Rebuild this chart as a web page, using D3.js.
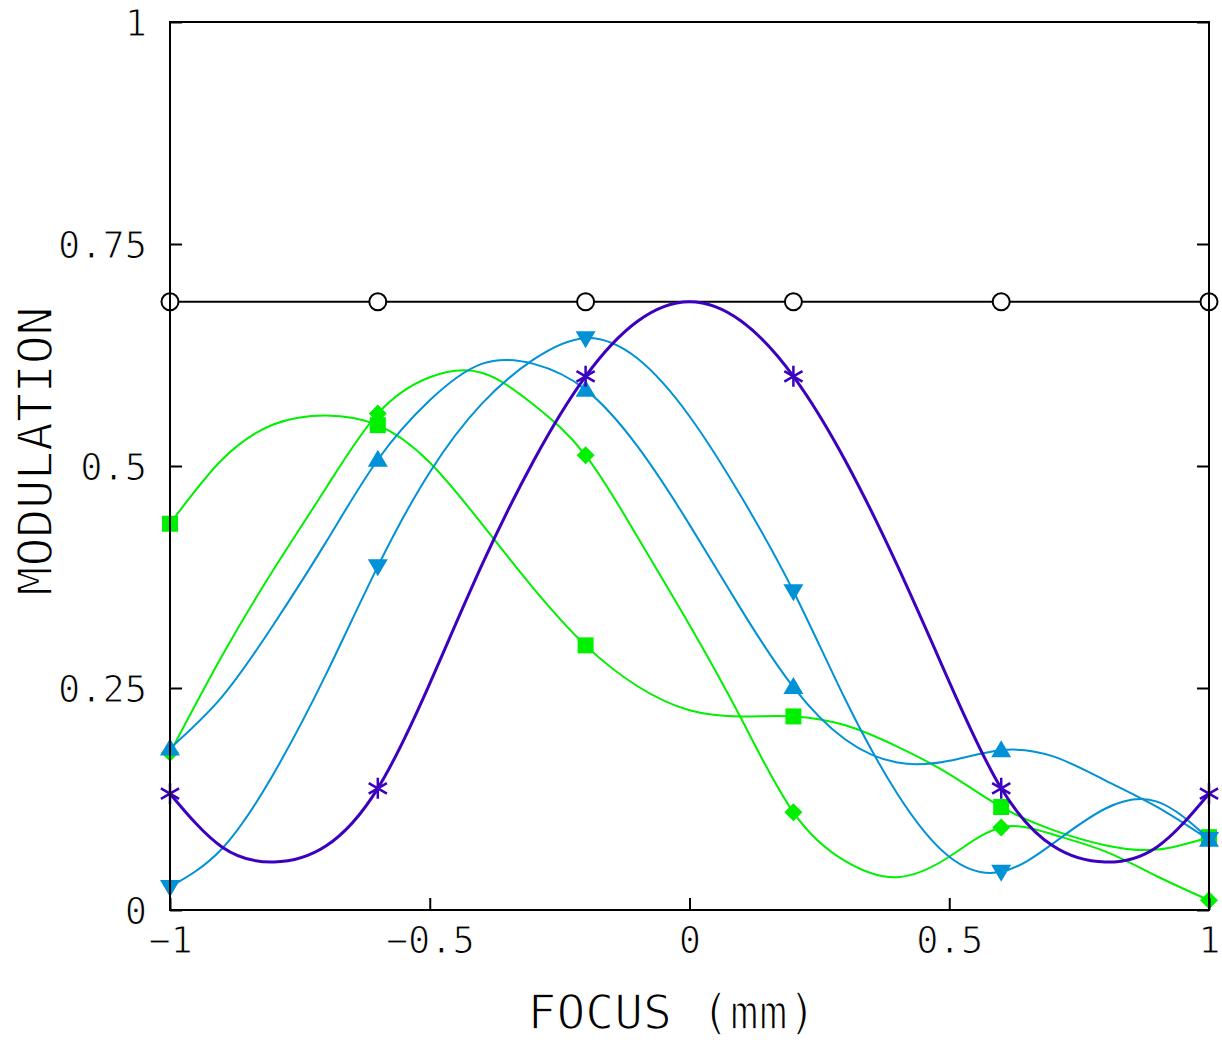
<!DOCTYPE html>
<html>
<head>
<meta charset="utf-8">
<script src="https://cdn.jsdelivr.net/npm/d3@7"></script>
<style>
  html, body { margin: 0; padding: 0; background: #fff; }
  svg { display: block; }
  text { font-family: "DejaVu Sans Mono", monospace; fill: #000; stroke: #fff; stroke-width: 1.1px; paint-order: fill stroke; }
</style>
</head>
<body>
<div id="chart"></div>
<script>
// ---------- data ----------
const focus = [-1, -0.9, -0.8, -0.7, -0.6, -0.5, -0.4, -0.3, -0.2, -0.1, 0,
               0.1, 0.2, 0.3, 0.4, 0.5, 0.6, 0.7, 0.8, 0.9, 1];
const markerFocus = [-1, -0.6, -0.2, 0.2, 0.6, 1];

const seriesCircle   = [0.685, 0.685, 0.685, 0.685, 0.685, 0.685, 0.685, 0.685, 0.685, 0.685, 0.685,
                        0.685, 0.685, 0.685, 0.685, 0.685, 0.685, 0.685, 0.685, 0.685, 0.685];
const seriesDiamond  = [0.177, 0.286, 0.384, 0.475, 0.559, 0.600, 0.605, 0.569, 0.512, 0.420, 0.321,
                        0.215, 0.110, 0.055, 0.037, 0.060, 0.093, 0.085, 0.066, 0.038, 0.011];
const seriesSquare   = [0.435, 0.507, 0.547, 0.557, 0.546, 0.504, 0.435, 0.362, 0.298, 0.252, 0.225,
                        0.218, 0.218, 0.208, 0.184, 0.153, 0.116, 0.090, 0.073, 0.068, 0.082];
const seriesTriUp    = [0.182, 0.240, 0.322, 0.414, 0.507, 0.574, 0.615, 0.615, 0.586, 0.522, 0.434,
                        0.338, 0.251, 0.192, 0.166, 0.168, 0.180, 0.173, 0.146, 0.116, 0.079];
const seriesTriDown  = [0.026, 0.069, 0.154, 0.265, 0.387, 0.493, 0.570, 0.620, 0.644, 0.621, 0.556,
                        0.465, 0.359, 0.237, 0.131, 0.060, 0.043, 0.075, 0.114, 0.122, 0.080];
const seriesAsterisk = [0.131, 0.071, 0.054, 0.072, 0.137, 0.255, 0.388, 0.506, 0.601, 0.663, 0.685,
                        0.663, 0.601, 0.506, 0.388, 0.257, 0.137, 0.072, 0.054, 0.071, 0.131];

const xTickValues = [-1, -0.5, 0, 0.5, 1];
const xTickLabels = ["\u22121", "\u22120.5", "0", "0.5", "1"];
const yTickValues = [0, 0.25, 0.5, 0.75, 1];
const yTickLabels = ["0", "0.25", "0.5", "0.75", "1"];

const xTitle = "FOCUS (mm)";
const yTitle = "MODULATION";

// ---------- setup ----------
const W = 1222, H = 1043;
const L = 170, R = 1209, T = 22, B = 910;

const svg = d3.select("#chart").append("svg").attr("width", W).attr("height", H);

const x = d3.scaleLinear().domain([-1, 1]).range([L, R]);
const y = d3.scaleLinear().domain([0, 1]).range([B, T]);

const series = [
  { name: "circle",   values: seriesCircle,   color: "#000000", width: 2,   marker: "circle" },
  { name: "diamond",  values: seriesDiamond,  color: "#00f000", width: 2,   marker: "diamond" },
  { name: "square",   values: seriesSquare,   color: "#00f000", width: 2,   marker: "square" },
  { name: "triUp",    values: seriesTriUp,    color: "#0091d7", width: 2,   marker: "triUp" },
  { name: "triDown",  values: seriesTriDown,  color: "#0091d7", width: 2,   marker: "triDown" },
  { name: "asterisk", values: seriesAsterisk, color: "#3c00bf", width: 3,   marker: "asterisk" }
];

const line = d3.line()
  .x(d => x(d.f))
  .y(d => y(d.v))
  .curve(d3.curveNatural);

function markerPath(type) {
  const p = d3.path();
  if (type === "square") {
    const s = 8;
    p.rect(-s, -s, 2 * s, 2 * s);
  } else if (type === "diamond") {
    const s = 9;
    p.moveTo(0, -s); p.lineTo(s, 0); p.lineTo(0, s); p.lineTo(-s, 0); p.closePath();
  } else if (type === "triUp") {
    p.moveTo(0, -10); p.lineTo(10, 7); p.lineTo(-10, 7); p.closePath();
  } else if (type === "triDown") {
    p.moveTo(0, 10); p.lineTo(10, -7); p.lineTo(-10, -7); p.closePath();
  } else if (type === "asterisk") {
    const r = 10.5, t = r / 2, u = r * Math.sqrt(3) / 2;
    p.moveTo(0, -r); p.lineTo(0, r);
    p.moveTo(-u, -t); p.lineTo(u, t);
    p.moveTo(-u, t); p.lineTo(u, -t);
  } else if (type === "circle") {
    p.arc(0, 0, 8.5, 0, 2 * Math.PI);
  }
  return p.toString();
}

// ---------- series ----------
series.forEach(s => {
  const pts = focus.map((f, i) => ({ f: f, v: s.values[i] }));
  const g = svg.append("g").attr("class", "series-" + s.name);
  g.append("path")
    .attr("d", line(pts))
    .attr("fill", "none")
    .attr("stroke", s.color)
    .attr("stroke-width", s.width)
    .attr("stroke-linejoin", "round");
  const mk = pts.filter(p => markerFocus.some(m => Math.abs(m - p.f) < 1e-9));
  g.selectAll("path.mk").data(mk).enter().append("path")
    .attr("class", "mk")
    .attr("transform", d => `translate(${x(d.f)},${y(d.v)})`)
    .attr("d", markerPath(s.marker))
    .attr("fill", s.marker === "circle" ? "#fff" : (s.marker === "asterisk" ? "none" : s.color))
    .attr("stroke", s.marker === "circle" || s.marker === "asterisk" ? s.color : "none")
    .attr("stroke-width", s.marker === "asterisk" ? 2.5 : 2);
});

// ---------- axes ----------
const axL = svg.append("g").attr("transform", `translate(${L},0)`)
  .call(d3.axisLeft(y).tickValues(yTickValues).tickSize(-12).tickPadding(23)
    .tickFormat((d, i) => yTickLabels[i]));
const axR = svg.append("g").attr("transform", `translate(${R},0)`)
  .call(d3.axisRight(y).tickValues(yTickValues).tickSize(-12).tickFormat(""));
const axB = svg.append("g").attr("transform", `translate(0,${B})`)
  .call(d3.axisBottom(x).tickValues(xTickValues).tickSize(-12).tickPadding(20)
    .tickFormat((d, i) => xTickLabels[i]));

[axL, axR, axB].forEach(a => {
  a.select(".domain").remove();
  a.selectAll(".tick line").attr("stroke", "#000").attr("stroke-width", 2);
  a.attr("font-family", null).attr("font-size", null);
});
axL.selectAll(".tick text").attr("font-size", 37).attr("dy", "0.36em");
axB.selectAll(".tick text").attr("font-size", 37).attr("dy", "0.71em").attr("y", 17);

// frame
svg.append("rect")
  .attr("x", L).attr("y", T).attr("width", R - L).attr("height", B - T)
  .attr("fill", "none").attr("stroke", "#000").attr("stroke-width", 2);

// titles
svg.append("text")
  .attr("x", 672).attr("y", 1029)
  .attr("text-anchor", "middle")
  .attr("font-size", 48)
  .style("stroke-width", "1.5px")
  .text(xTitle);

svg.append("text")
  .attr("transform", "translate(52,451) rotate(-90)")
  .attr("text-anchor", "middle")
  .attr("font-size", 48)
  .style("stroke-width", "1.5px")
  .text(yTitle);
</script>
</body>
</html>
